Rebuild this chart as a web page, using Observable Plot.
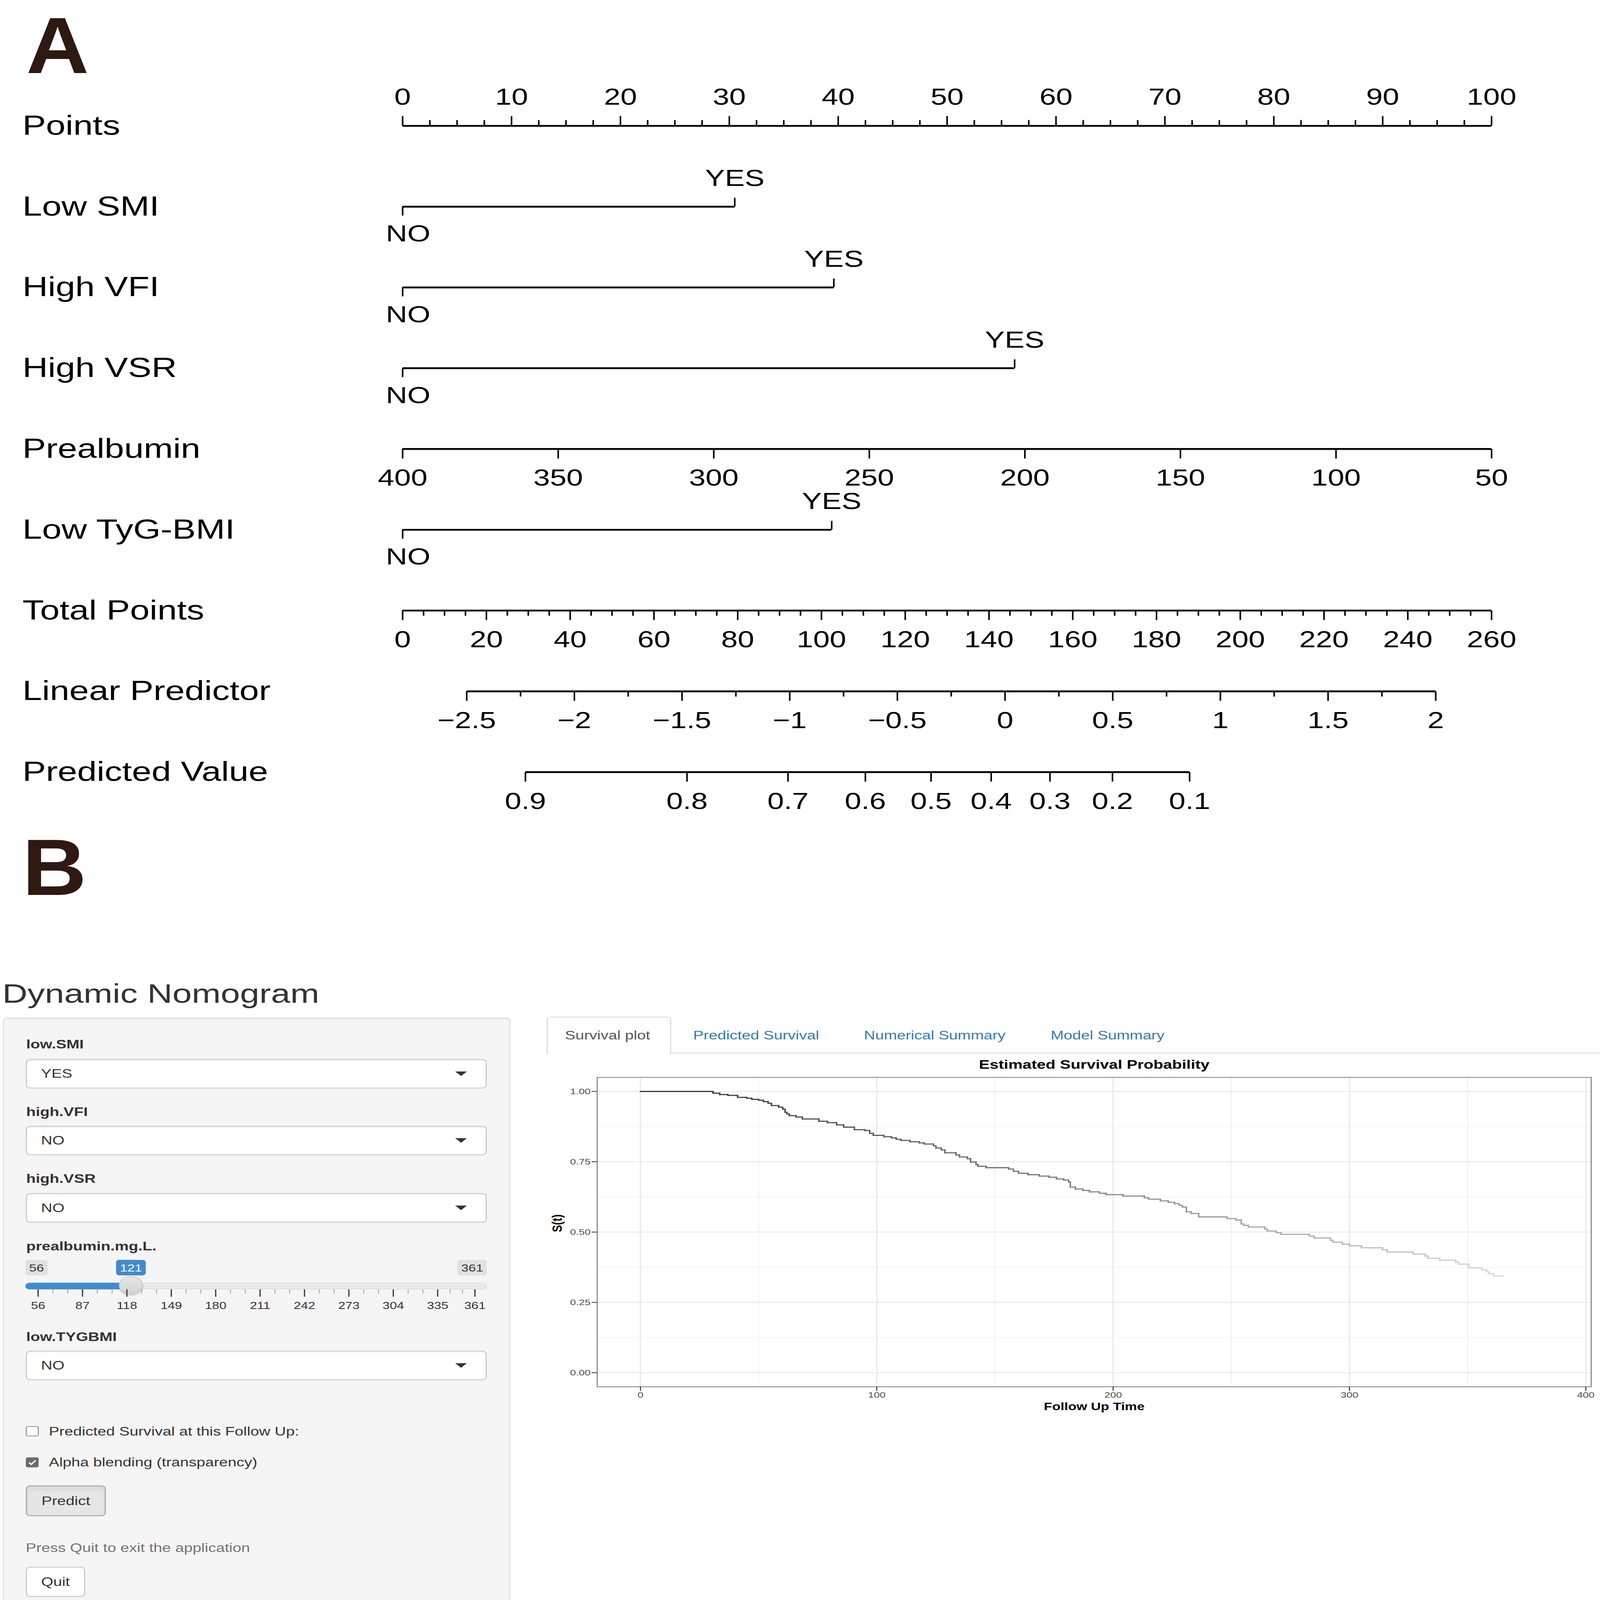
<!DOCTYPE html>
<html><head><meta charset="utf-8">
<script src="https://cdn.jsdelivr.net/npm/d3@7"></script>
<script src="https://cdn.jsdelivr.net/npm/@observablehq/plot@0.6"></script>
<style>
html,body{margin:0;padding:0;background:#fff;overflow:hidden;}
#page{position:relative;width:4095px;height:5249px;overflow:hidden;font-family:"Liberation Sans",Arial,sans-serif;color:#333;background:#fff;}
#page div{position:absolute;box-sizing:border-box;}
</style></head><body><div id="page"></div>
<script>
// ---------------- DATA ----------------
const nomoRows = ["Points","Low SMI","High VFI","High VSR","Prealbumin","Low TyG-BMI","Total Points","Linear Predictor","Predicted Value"];
const pointsTicks = [0,10,20,30,40,50,60,70,80,90,100];
const catVars = ["Low SMI","High VFI","High VSR","Low TyG-BMI"];
const catYesPoints = [30.5, 39.6, 56.2, 39.4];
const catLevels = ["NO","YES"];
const prealbuminTicks = [400,350,300,250,200,150,100,50];
const totalPointsTicks = [0,20,40,60,80,100,120,140,160,180,200,220,240,260];
const lpTicks = [-2.5,-2,-1.5,-1,-0.5,0,0.5,1,1.5,2];
const lpAtZeroTotal = -2.7976;   // linear predictor at 0 total points
const lpPerPoint = 0.01945;      // linear predictor per total point
const predTicks = [0.9,0.8,0.7,0.6,0.5,0.4,0.3,0.2,0.1];
const baselineLogCumHaz = -0.023;

const survTime = [0,30.7,33.5,37,41.1,45,47.1,50,52,54,
 55.4,58.5,60.2,61.2,62,63,65.8,68.5,75.5,79.1,
 83,86,90.5,95,97,98.5,103,106.2,108.2,110.2,
 114,118,120.1,124,125,127.3,128.8,133.5,135,138.3,
 139.7,142,142.8,146.2,155.8,157.8,160,164,168.8,172.9,
 176,179,181.2,181.9,184,187.2,190,194.2,197,204.2,
 213.2,215,220,223.3,226,228,229.3,231,233,236.2,
 248.2,252,254.2,255.2,257.2,264.2,265.2,269,271,283,
 285,292,293,297,300,305.1,314,316,327,332,
 333.2,338.2,345,346.2,350.5,356,358,359,361,365];
const survProb = [1,0.994,0.989,0.986,0.979,0.976,0.972,0.969,0.964,0.958,
 0.950,0.944,0.937,0.926,0.920,0.914,0.909,0.902,0.894,0.889,
 0.881,0.873,0.864,0.861,0.851,0.844,0.839,0.835,0.830,0.826,
 0.821,0.817,0.813,0.807,0.799,0.792,0.782,0.774,0.767,0.761,
 0.749,0.740,0.734,0.729,0.724,0.716,0.709,0.704,0.699,0.695,
 0.689,0.685,0.678,0.660,0.653,0.648,0.643,0.638,0.633,0.628,
 0.622,0.617,0.611,0.606,0.601,0.595,0.589,0.572,0.566,0.554,
 0.548,0.543,0.529,0.524,0.518,0.511,0.504,0.498,0.492,0.486,
 0.479,0.471,0.464,0.457,0.451,0.444,0.437,0.429,0.422,0.415,
 0.407,0.400,0.393,0.386,0.373,0.366,0.359,0.352,0.344,0.344];
const survXTicks = [0,100,200,300,400];
const survXMinor = [50,150,250,350];
const survYTicks = [0,0.25,0.5,0.75,1];
const survYMinor = [0.125,0.375,0.625,0.875];

const inputLabels = ["low.SMI","high.VFI","high.VSR","prealbumin.mg.L.","low.TYGBMI"];
const inputValues = ["YES","NO","NO",null,"NO"];
const sliderMin = 56, sliderMax = 361, sliderValue = 121;
const sliderTicks = [56,87,118,149,180,211,242,273,304,335,361];
const tabNames = ["Survival plot","Predicted Survival","Numerical Summary","Model Summary"];

// ---------------- HELPERS ----------------
const PAGE_W = 4095, PAGE_H = 5249;
const page = document.getElementById("page");
const FONT = "'Liberation Sans', Arial, Helvetica, sans-serif";
function el(style, text, parent = page) {
  const e = document.createElement("div");
  for (const k in style) e.style[k] = typeof style[k] === "number" ? style[k] + "px" : style[k];
  if (text != null) e.textContent = text;
  parent.appendChild(e);
  return e;
}
// text whose cap-centre sits at yc (line-height 1.2, Liberation Sans metrics)
function txt(text, x, yc, size, o = {}) {
  return el({left: x, top: yc - 0.5885 * size, fontSize: size, lineHeight: (1.2 * size) + "px", whiteSpace: "nowrap",
    color: o.color || "#333", fontWeight: o.weight || "normal", fontFamily: FONT,
    transform: o.center ? "translateX(-50%)" : (o.transform || ""), transformOrigin: "left center"}, text);
}
function holder(left, top, w, h) { return el({left, top, width: w, height: h}); }

// ---------------- PANEL A : nomogram ----------------
const toX = {
  pre: v => (prealbuminTicks[0] - v) / (prealbuminTicks[0] - prealbuminTicks[prealbuminTicks.length-1]) * 100,
  total: tp => tp / totalPointsTicks[totalPointsTicks.length-1] * 100,
  lp: lp => toX.total((lp - lpAtZeroTotal) / lpPerPoint),
  pred: p => toX.lp(Math.log(-Math.log(p)) - baselineLogCumHaz)
};
const fmtMinus = d => d < 0 ? "\u2212" + Math.abs(d) : String(d);

const lineRows = [
  {row: "Points", x1: 0, x2: 100},
  ...catVars.map((v, i) => ({row: v, x1: 0, x2: catYesPoints[i]})),
  {row: "Prealbumin", x1: toX.pre(prealbuminTicks[0]), x2: toX.pre(prealbuminTicks[prealbuminTicks.length-1])},
  {row: "Total Points", x1: toX.total(totalPointsTicks[0]), x2: toX.total(totalPointsTicks[totalPointsTicks.length-1])},
  {row: "Linear Predictor", x1: toX.lp(lpTicks[0]), x2: toX.lp(lpTicks[lpTicks.length-1])},
  {row: "Predicted Value", x1: toX.pred(predTicks[0]), x2: toX.pred(predTicks[predTicks.length-1])}
];
const pointsMinor = d3.range(0, 100.001, 2.5).filter(v => v % 10 !== 0).map(x => ({row: "Points", x}));
const pointsMajor = pointsTicks.map(x => ({row: "Points", x, label: String(x)}));
const yesTicks = catVars.map((v, i) => ({row: v, x: catYesPoints[i], label: catLevels[1]}));
const noTicks = catVars.map(v => ({row: v, x: 0, label: catLevels[0]}));
const downMajor = [
  ...prealbuminTicks.map(v => ({row: "Prealbumin", x: toX.pre(v), label: String(v)})),
  ...totalPointsTicks.map(v => ({row: "Total Points", x: toX.total(v), label: String(v)})),
  ...lpTicks.map(v => ({row: "Linear Predictor", x: toX.lp(v), label: fmtMinus(v)})),
  ...predTicks.map(v => ({row: "Predicted Value", x: toX.pred(v), label: String(v)}))
];
const downMinor = [
  ...d3.range(0, 260.001, 5).filter(v => v % 20 !== 0).map(v => ({row: "Total Points", x: toX.total(v)})),
  ...d3.range(-2.25, 2, 0.5).map(v => ({row: "Linear Predictor", x: toX.lp(v)}))
];

const rowTop = 409, rowBottom = 2535;
const bw = (rowBottom - rowTop) / (nomoRows.length - 1);
const up = L => ({insetTop: bw/2 - L, insetBottom: bw/2});
const down = L => ({insetTop: bw/2, insetBottom: bw/2 - L});

const nomo = Plot.plot({
  width: 4095, height: 2700, marginLeft: 0, marginRight: 0, marginTop: 0, marginBottom: 0,
  x: {domain: [0, 100], range: [1030, 3817], axis: null},
  y: {type: "band", domain: nomoRows, range: [rowTop - bw/2, rowBottom + bw/2], padding: 0, axis: null},
  style: {background: "transparent", fontFamily: FONT, color: "#000"},
  marks: [
    Plot.ruleY(lineRows, {y: "row", x1: "x1", x2: "x2", stroke: "#000", strokeWidth: 6}),
    Plot.tickX(pointsMajor, {x: "x", y: "row", stroke: "#000", strokeWidth: 4, ...up(32)}),
    Plot.tickX(pointsMinor, {x: "x", y: "row", stroke: "#000", strokeWidth: 4, ...up(19)}),
    Plot.tickX(yesTicks, {x: "x", y: "row", stroke: "#000", strokeWidth: 4, ...up(29)}),
    Plot.tickX(noTicks, {x: "x", y: "row", stroke: "#000", strokeWidth: 4, ...down(30)}),
    Plot.tickX(downMajor, {x: "x", y: "row", stroke: "#000", strokeWidth: 4, ...down(32)}),
    Plot.tickX(downMinor, {x: "x", y: "row", stroke: "#000", strokeWidth: 4, ...down(18)}),
    Plot.text(pointsMajor, {x: "x", y: "row", text: "label", dy: -94, fontSize: 76, fill: "#000"}),
    Plot.text(yesTicks, {x: "x", y: "row", text: "label", dy: -92, fontSize: 76, fill: "#000"}),
    Plot.text(noTicks, {x: "x", y: "row", text: "label", dy: 90, dx: 14, fontSize: 76, fill: "#000"}),
    Plot.text(downMajor, {x: "x", y: "row", text: "label", dy: 96, fontSize: 76, fill: "#000"}),
    Plot.text(nomoRows, {y: d => d, text: d => d, frameAnchor: "left", dx: 57, textAnchor: "start", fontSize: 90, fill: "#000"})
  ]
});
holder(0, 0, 4095, 2700).appendChild(nomo);

// panel letters (kept just inside the top edge)
txt("A", 67, 147, 262, {weight: "bold", color: "#2e1812", transform: "scaleX(0.85)"});
txt("B", 57, 2843, 262, {weight: "bold", color: "#2e1812", transform: "scaleX(0.87)"});

// ---------------- PANEL B : shiny app ----------------
txt("Dynamic Nomogram", 6, 3258, 89, {color: "#333"});
el({left: 7, top: 3338, width: 1300, height: 1960, background: "#f5f5f5", border: "3px solid #e3e3e3",
    borderRadius: "11px", boxShadow: "inset 0 3px 3px rgba(0,0,0,0.05)"});

const labelY = [3426, 3647, 3866, 4088, 4385];
const selectTop = [3474, 3693, 3914, null, 4431];
inputLabels.forEach((lab, i) => {
  txt(lab, 67, labelY[i], 40, {weight: "bold"});
  if (inputValues[i] != null) {
    const t = selectTop[i];
    el({left: 66, top: t, width: 1180, height: 97, background: "#fff", border: "3px solid #ccc",
        borderRadius: "11px", boxShadow: "inset 0 3px 3px rgba(0,0,0,0.075)"});
    txt(inputValues[i], 105, t + 48, 40);
    el({left: 1165, top: t + 41, width: 0, height: 0, borderLeft: "15px solid transparent",
        borderRight: "15px solid transparent", borderTop: "15px solid #333"});
  }
});

// slider
const sx = d3.scaleLinear().domain([sliderMin, sliderMax]).range([97, 1215]);
el({left: 65, top: 4208, width: 1181, height: 22, background: "#e9e9e9", border: "2px solid #dcdcdc", borderRadius: "11px"});
el({left: 65, top: 4208, width: sx(sliderValue) - 65, height: 22, background: "#428bca", borderRadius: "11px 0 0 11px"});
function badge(v, bg, fg, left, w) {
  el({left, top: 4133, width: w, height: 51, background: bg, borderRadius: "8px"});
  txt(String(v), left + w/2, 4159, 34, {color: fg, center: true});
}
badge(sliderMin, "#e1e1e1", "#333", 65, 57);
badge(sliderValue, "#428bca", "#fff", sx(sliderValue) - 38, 76);
badge(sliderMax, "#e1e1e1", "#333", 1171, 75);
el({left: sx(sliderValue) - 31, top: 4186, width: 62, height: 62, borderRadius: "50%",
    background: "linear-gradient(#e6e6e6,#d2d2d2)", border: "2px solid #c4c4c4", boxShadow: "0 2px 4px rgba(0,0,0,0.2)"});
const sliderMinor = [];
for (let i = 0; i < sliderTicks.length - 1; i++) {
  const a = sliderTicks[i], b = sliderTicks[i+1];
  sliderMinor.push(a + (b - a) / 3, a + 2 * (b - a) / 3);
}
// grid: y in tick-length units (0 = track bottom, 1 = major tick end)
const sliderGrid = Plot.plot({
  width: 1307, height: 100, marginTop: 0, marginBottom: 0, marginLeft: 0, marginRight: 0,
  x: {domain: [sliderMin, sliderMax], range: [97, 1215], axis: null},
  y: {domain: [0, 1], range: [30, 54], axis: null},
  style: {background: "transparent", fontFamily: FONT},
  marks: [
    Plot.ruleX(sliderMinor, {y1: 0, y2: 0.55, stroke: "#9a9a9a", strokeWidth: 2}),
    Plot.ruleX(sliderTicks, {y1: 0, y2: 1, stroke: "#333", strokeWidth: 3}),
    Plot.text(sliderTicks, {x: d => d, y: 1, dy: 29, text: d => String(d), fontSize: 33, fill: "#333"})
  ]
});
holder(0, 4200, 1307, 100).appendChild(sliderGrid);

// checkboxes
function checkbox(top, checked, label) {
  const b = el({left: 66, top, width: 33, height: 33, border: "2px solid #767676", borderRadius: "5px",
    background: checked ? "#6b6b6b" : "#fff"});
  if (checked) b.innerHTML = '<svg width="29" height="29" viewBox="0 0 29 29" style="position:absolute;left:0;top:0"><polyline points="6,15 12,21 23,8" fill="none" stroke="#fff" stroke-width="4"/></svg>';
  txt(label, 125, top + 16, 40);
}
checkbox(4679, false, "Predicted Survival at this Follow Up:");
checkbox(4781, true, "Alpha blending (transparency)");
el({left: 66, top: 4873, width: 205, height: 101, background: "#e6e6e6", border: "3px solid #adadad",
    borderRadius: "11px", boxShadow: "inset 0 8px 14px rgba(0,0,0,0.08)"});
txt("Predict", 168.5, 4923, 40, {center: true});
txt("Press Quit to exit the application", 66, 5078, 40, {color: "#737373"});
el({left: 66, top: 5140, width: 152, height: 99, background: "#fff", border: "3px solid #ccc", borderRadius: "11px"});
txt("Quit", 142, 5189, 40, {center: true});

// tabs
el({left: 1718, top: 3453, width: 2377, height: 3, background: "#ddd"});
el({left: 1399, top: 3335, width: 319, height: 124, background: "#fff", border: "3px solid #ddd",
    borderBottom: "3px solid #fff", borderRadius: "11px 11px 0 0"});
const tabX = [1446, 1774, 2211, 2689];
tabNames.forEach((t, i) => txt(t, tabX[i], 3396, 40, {color: i === 0 ? "#555" : "#337ab7"}));

// survival plot
const segs = [];
for (let i = 0; i < survTime.length - 1; i++) {
  segs.push({x1: survTime[i], y1: survProb[i], x2: survTime[i+1], y2: survProb[i], t: survTime[i]});
  if (survProb[i+1] !== survProb[i])
    segs.push({x1: survTime[i+1], y1: survProb[i], x2: survTime[i+1], y2: survProb[i+1], t: survTime[i+1]});
}
const tMax = survTime[survTime.length - 1];
const fade = d3.interpolateRgb("#262626", "#d6d6d6");
const surv = Plot.plot({
  width: 2695, height: 1200, marginLeft: 128, marginRight: 23, marginTop: 74, marginBottom: 111,
  x: {domain: [-18.3, 402.3], label: null},
  y: {domain: [-0.05, 1.05], label: null},
  style: {background: "#fff", fontFamily: FONT},
  marks: [
    Plot.ruleX(survXMinor, {stroke: "#ededed", strokeWidth: 1.8}),
    Plot.ruleY(survYMinor, {stroke: "#ededed", strokeWidth: 1.8}),
    Plot.ruleX(survXTicks, {stroke: "#ebebeb", strokeWidth: 3.4}),
    Plot.ruleY(survYTicks, {stroke: "#ebebeb", strokeWidth: 3.4}),
    Plot.link(segs, {x1: "x1", y1: "y1", x2: "x2", y2: "y2", stroke: d => fade(d.t / tMax), strokeWidth: 3.6, strokeLinecap: "square"}),
    Plot.frame({stroke: "#8f8f8f", strokeWidth: 3}),
    Plot.axisX(survXTicks, {tickSize: 14, tickPadding: 3, fontSize: 27, fill: "#4d4d4d", stroke: "#333", strokeWidth: 2.5, label: null}),
    Plot.axisY(survYTicks, {tickSize: 14, tickPadding: 3, fontSize: 27, fill: "#4d4d4d", stroke: "#333", strokeWidth: 2.5, tickFormat: d3.format(".2f"), label: null}),
    Plot.text(["Estimated Survival Probability"], {frameAnchor: "top", lineAnchor: "middle", dy: -41, fontWeight: "bold", fontSize: 41, fill: "#000"}),
    Plot.text(["Follow Up Time"], {frameAnchor: "bottom", lineAnchor: "middle", dy: 66, fontWeight: "bold", fontSize: 35, fill: "#000"}),
    Plot.text(["S(t)"], {frameAnchor: "left", lineAnchor: "middle", dx: -102, rotate: -90, fontWeight: "bold", fontSize: 35, fill: "#000"})
  ]
});
holder(1400, 3460, 2695, 1200).appendChild(surv);

// fit the whole 4095x5249 layout into the actual viewport (it may be shorter than asked)
const fitX = Math.min(1, window.innerWidth / PAGE_W), fitY = Math.min(1, window.innerHeight / PAGE_H);
if (fitX < 1 || fitY < 1) {
  page.style.transformOrigin = "0 0";
  page.style.transform = `scale(${fitX}, ${fitY})`;
}
</script></body></html>
